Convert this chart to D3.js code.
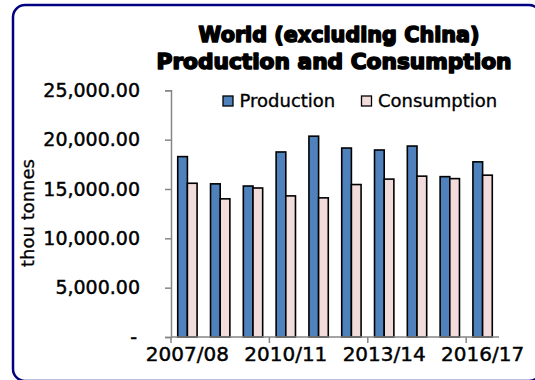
<!DOCTYPE html>
<html>
<head>
<meta charset="utf-8">
<script src="https://cdn.jsdelivr.net/npm/d3@7"></script>
<style>
  html, body { margin: 0; background: #fff; overflow: hidden; }
  svg { display: block; }
</style>
</head>
<body>
<script>
// values (thou tonnes)
const seasons = ["2007/08", "2008/09", "2009/10", "2010/11", "2011/12",
                 "2012/13", "2013/14", "2014/15", "2015/16", "2016/17"];
const production  = [18280, 15520, 15300, 18750, 20350, 19150, 18950, 19350, 16250, 17750];
const consumption = [15580, 14000, 15100, 14300, 14100, 15450, 16000, 16300, 16050, 16400];
const seriesNames = ["Production", "Consumption"];
const yTicks = [0, 5000, 10000, 15000, 20000, 25000];
const xLabelSeasons = ["2007/08", "2010/11", "2013/14", "2016/17"];

const width = 535, height = 380;
const colors = ["#4f81bd", "#f2dcdb"];
const axisGrey = "#868686";
const font = "'DejaVu Sans', sans-serif";

const svg = d3.select("body").append("svg")
    .attr("width", width)
    .attr("height", height);

// rounded chart border, runs off the right and bottom edges
svg.append("rect")
    .attr("x", 13).attr("y", 5)
    .attr("width", 528).attr("height", 376)
    .attr("rx", 12)
    .attr("fill", "none")
    .attr("stroke", "#000080")
    .attr("stroke-width", 2.5);

// title
const title = svg.append("g")
    .attr("font-family", font)
    .attr("font-weight", "bold")
    .attr("font-size", 21)
    .attr("text-anchor", "middle")
    .attr("fill", "#000")
    .attr("stroke", "#000")
    .attr("stroke-width", 1.6)
    .attr("stroke-linejoin", "round");
title.append("text").attr("x", 339).attr("y", 42)
    .attr("textLength", 281).attr("lengthAdjust", "spacingAndGlyphs")
    .text("World (excluding China)");
title.append("text").attr("x", 334).attr("y", 69)
    .attr("textLength", 355).attr("lengthAdjust", "spacingAndGlyphs")
    .text("Production and Consumption");

const plotLeft = 171, plotRight = 499, plotTop = 90.3, plotBottom = 337;

const x = d3.scaleBand()
    .domain(seasons)
    .range([plotLeft, plotRight])
    .paddingInner(0.41)
    .paddingOuter(0.205);

const xInner = d3.scaleBand()
    .domain(seriesNames)
    .range([0, x.bandwidth()]);

const y = d3.scaleLinear()
    .domain([0, 25000])
    .range([plotBottom, plotTop]);

const rows = seasons.map((s, i) => ({ season: s, values: [production[i], consumption[i]] }));

// bars
const groups = svg.append("g").selectAll("g")
    .data(rows)
    .join("g")
    .attr("transform", d => `translate(${x(d.season)},0)`);

groups.selectAll("rect")
    .data(d => d.values.map((v, k) => ({ name: seriesNames[k], value: v, k })))
    .join("rect")
    .attr("x", d => xInner(d.name))
    .attr("y", d => y(d.value))
    .attr("width", xInner.bandwidth())
    .attr("height", d => y(0) - y(d.value))
    .attr("fill", d => colors[d.k])
    .attr("stroke", "#000")
    .attr("stroke-width", 1.6);

// y axis
const fmt = d3.format(",.2f");
const yAxis = svg.append("g")
    .attr("transform", `translate(${plotLeft},0)`)
    .call(d3.axisLeft(y).tickValues(yTicks).tickSize(6).tickPadding(25)
      .tickFormat(d => d === 0 ? "-" : fmt(d)));
yAxis.select(".domain").attr("stroke", axisGrey).attr("stroke-width", 1.5);
yAxis.selectAll(".tick line").attr("stroke", axisGrey).attr("stroke-width", 1.5);
yAxis.selectAll(".tick text")
    .attr("font-family", font)
    .attr("font-size", 19)
    .attr("fill", "#000")
    .attr("stroke", "#000")
    .attr("stroke-width", 0.45)
    .attr("dx", d => d === 0 ? -3 : 0);

// x axis: category ticks every third season, at the band boundaries
const step = x.step();
const xAxis = svg.append("g").attr("transform", `translate(0,${plotBottom})`);
xAxis.append("line")
    .attr("x1", plotLeft).attr("x2", plotRight)
    .attr("stroke", axisGrey).attr("stroke-width", 1.5);
xAxis.selectAll("line.tk")
    .data(xLabelSeasons)
    .join("line")
    .attr("class", "tk")
    .attr("x1", d => x(d) - step * 0.205)
    .attr("x2", d => x(d) - step * 0.205)
    .attr("y1", 0).attr("y2", 6)
    .attr("stroke", axisGrey).attr("stroke-width", 1.5);
xAxis.selectAll("text")
    .data(xLabelSeasons)
    .join("text")
    .attr("x", d => x(d) + x.bandwidth() / 2)
    .attr("y", 24)
    .attr("text-anchor", "middle")
    .attr("font-family", font)
    .attr("font-size", 20)
    .attr("fill", "#000")
    .attr("stroke", "#000")
    .attr("stroke-width", 0.45)
    .text(d => d);

// y axis title
svg.append("text")
    .attr("transform", "translate(34,213) rotate(-90)")
    .attr("text-anchor", "middle")
    .attr("font-family", font)
    .attr("font-size", 18)
    .attr("fill", "#000")
    .attr("stroke", "#000")
    .attr("stroke-width", 0.3)
    .text("thou tonnes");

// legend
const legendX = [223, 361.5];
const legend = svg.append("g").selectAll("g")
    .data(seriesNames)
    .join("g")
    .attr("transform", (d, i) => `translate(${legendX[i]},96)`);
legend.append("rect")
    .attr("width", 10).attr("height", 10)
    .attr("fill", (d, i) => colors[i])
    .attr("stroke", "#000").attr("stroke-width", 1.3);
legend.append("text")
    .attr("x", 16.5).attr("y", 11)
    .attr("font-family", font)
    .attr("font-size", 18)
    .attr("fill", "#000")
    .attr("stroke", "#000")
    .attr("stroke-width", 0.35)
    .text(d => d);
</script>
</body>
</html>
